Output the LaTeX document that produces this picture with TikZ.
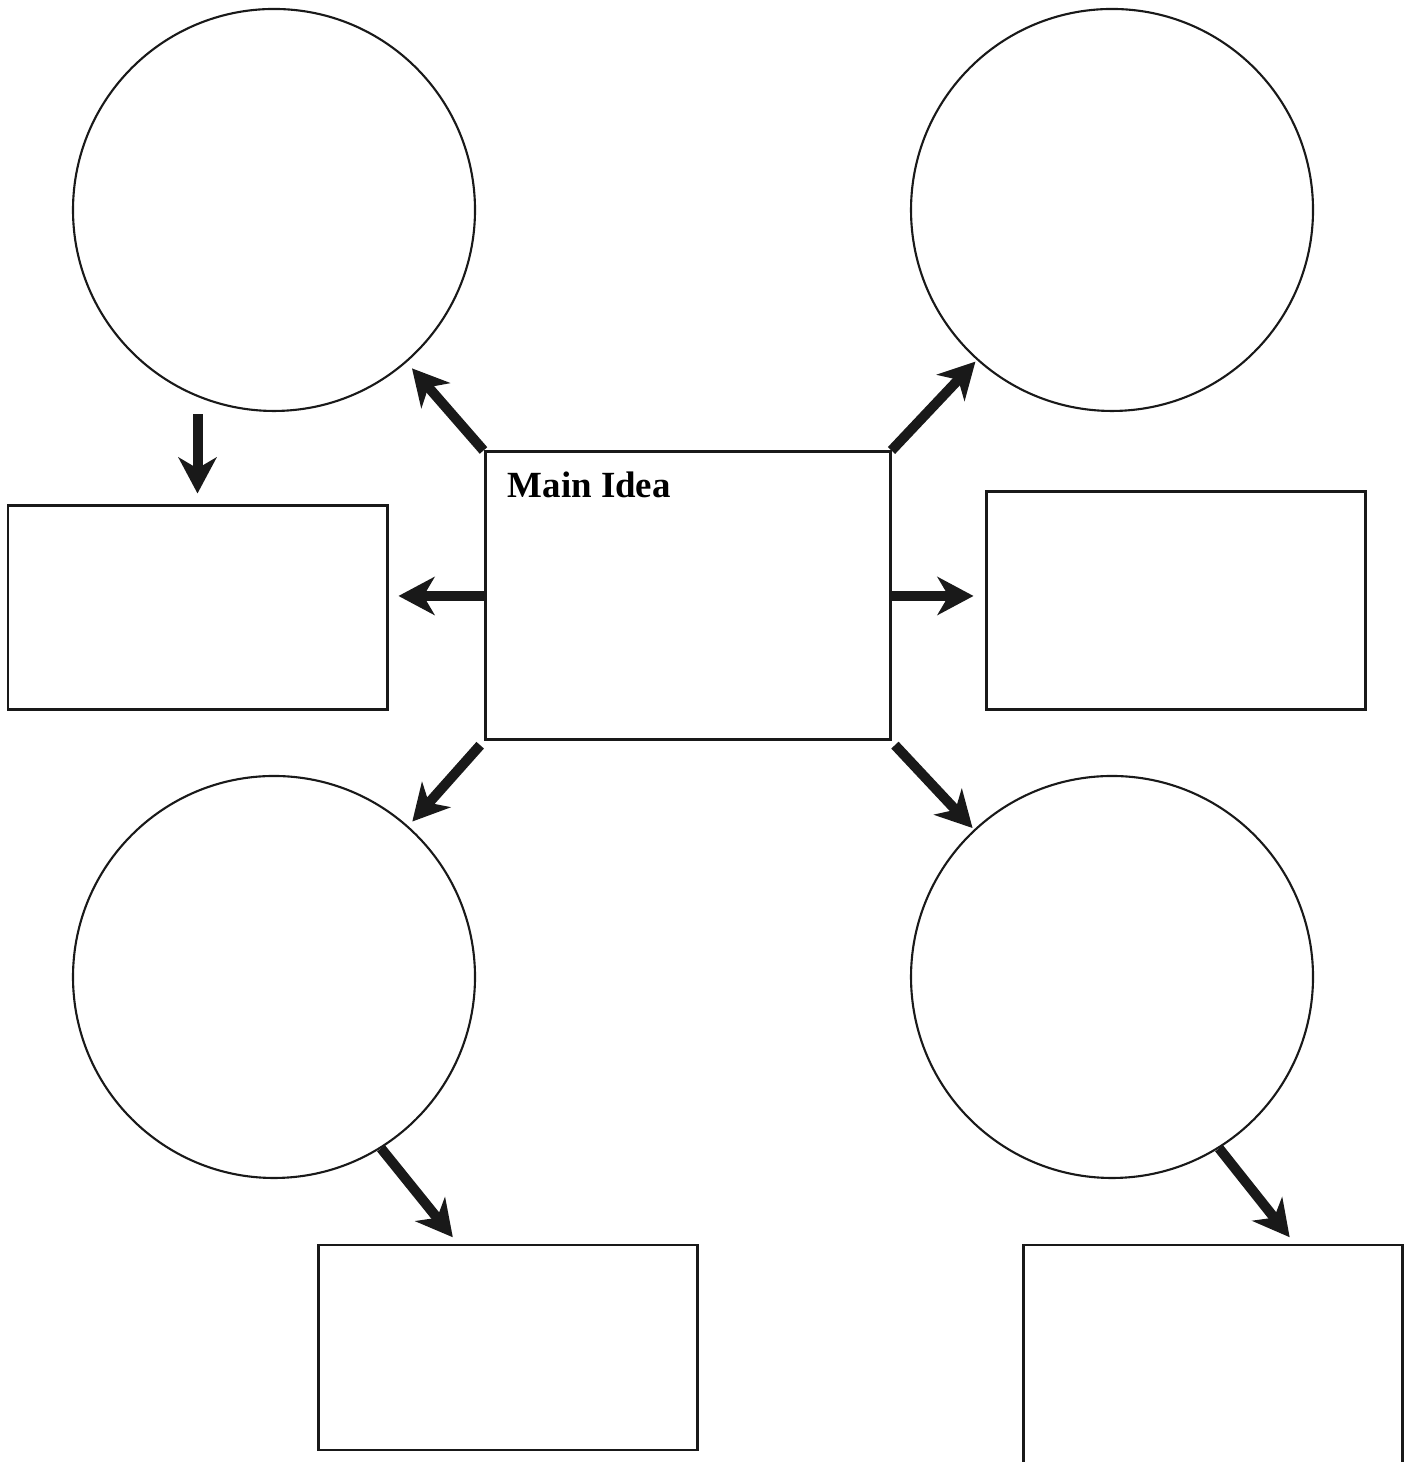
\documentclass[tikz,border=0pt]{standalone}
\usepackage{fontspec}
\setmainfont{Liberation Serif}
\usetikzlibrary{arrows.meta,calc}
\begin{document}
\begin{tikzpicture}[
		bubble/.style={circle, draw=black!90, line width=0.6pt, minimum size=4.02cm, inner sep=0mm},
		box/.style={rectangle, draw=black!90, line width=0.85pt, inner sep=0mm},
		fatarrow/.style={draw=black!90, line width=0.1cm, -{Stealth[length=0.36cm, width=0.38cm, inset=0.11cm]}}
	]
		\useasboundingbox (0, 0) rectangle (14.09, 14.62);
		\node[box, minimum width=4.05cm, minimum height=2.88cm] (main) at (6.875, 8.66) {};
		\node[font=\fontsize{10.5}{12}\selectfont\bfseries, anchor=base west, inner sep=0mm] (mainlabel) at (5.07, 9.64) {Main Idea};
		\node[bubble] (circletl) at (2.74, 12.52) {};
		\node[bubble] (circletr) at (11.12, 12.52) {};
		\node[bubble] (circlebl) at (2.74, 4.85) {};
		\node[bubble] (circlebr) at (11.12, 4.85) {};
		\node[box, minimum width=3.79cm, minimum height=2.04cm] (boxleft) at (1.975, 8.54) {};
		\node[box, minimum width=3.79cm, minimum height=2.18cm] (boxright) at (11.755, 8.61) {};
		\node[box, minimum width=3.79cm, minimum height=2.05cm] (boxbl) at (5.075, 1.145) {};
		\node[box, minimum width=3.79cm, minimum height=2.30cm] (boxbr) at (12.125, 1.02) {};
		\draw[fatarrow, shorten >=0.08cm] (main.north west) -- (circletl);
		\draw[fatarrow, shorten >=0.02cm] (main.north east) -- (circletr.228);
		\draw[fatarrow, shorten <=0.05cm, shorten >=0.06cm] (main.south west) -- (circlebl);
		\draw[fatarrow, shorten <=0.05cm, shorten >=0.02cm] (main.south east) -- (circlebr);
		\draw[fatarrow, shorten >=0.1cm] (main.west) -- (main.west -| boxleft.east);
		\draw[fatarrow, shorten <=-0.02cm, shorten >=0.11cm] (main.east) -- (main.east -| boxright.west);
		\draw[fatarrow, shorten <=0.02cm, shorten >=0.11cm] (boxleft.north |- circletl.south) -- (boxleft.north);
		\draw[fatarrow, shorten >=0.08cm] (circlebl.-58) -- ($(boxbl.north west)!0.37!(boxbl.north east)$);
		\draw[fatarrow, shorten >=0.08cm] (circlebr.-58) -- ($(boxbr.north west)!0.715!(boxbr.north east)$);
	\end{tikzpicture}
\end{document}
